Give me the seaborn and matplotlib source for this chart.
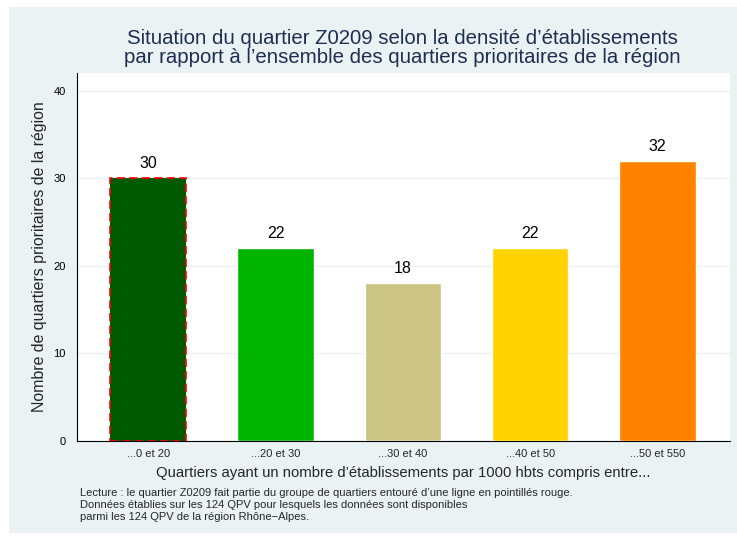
import numpy as np
import pandas as pd
import matplotlib
matplotlib.use("Agg")
import matplotlib.pyplot as plt
import seaborn as sns
from matplotlib.patches import Rectangle

# ======================
# Data
# ======================

categories = ["...0 et 20", "...20 et 30", "...30 et 40", "...40 et 50", "...50 et 550"]
counts = [30, 22, 18, 22, 32]
colors = ["#005A00", "#00B400", "#CBC482", "#FFD200", "#FF8200"]
yticks = [0, 10, 20, 30, 40]

title = ("Situation du quartier Z0209 selon la densité d\u2019établissements\n"
         "par rapport à l\u2019ensemble des quartiers prioritaires de la région")
xlabel = "Quartiers ayant un nombre d\u2019établissements par 1000 hbts compris entre..."
ylabel = "Nombre de quartiers prioritaires de la région"
notes = ["Lecture : le quartier Z0209 fait partie du groupe de quartiers entouré d\u2019une ligne en pointillés rouge.",
         "Données établies sur les 124 QPV pour lesquels les données sont disponibles",
         "parmi les 124 QPV de la région Rhône\u2212Alpes."]

df = pd.DataFrame({"cat": categories, "n": counts})

# ======================
# Plot
# ======================

sns.set_style("white")
plt.rcParams['font.family'] = ['Liberation Sans Narrow', 'Liberation Sans', 'DejaVu Sans']

bg = "#EAF2F3"
fig = plt.figure(figsize=(7.37, 5.4), dpi=100, facecolor="white")
fig.add_artist(Rectangle((9/737, 7/540), 1 - 9/737, 526/540,
                         transform=fig.transFigure, facecolor=bg,
                         edgecolor="none", zorder=-10))

ax = fig.add_axes([77/737, 1 - 441/540, 653/737, 368/540])
ax.set_facecolor("white")

sns.barplot(data=df, x="cat", y="n", hue="cat", palette=colors,
            width=0.6, saturation=1, legend=False, ax=ax, zorder=3)

# selected group: red dashed outline
first = ax.patches[0]
first.set_edgecolor("red")
first.set_linestyle((0, (5, 2.5)))
first.set_linewidth(1.2)

for c in ax.containers:
    ax.bar_label(c, padding=5, fontsize=11.5, color="black")

ax.set_ylim(0, 42)
ax.set_xlim(-0.56, 4.57)
ax.set_yticks(yticks)
ax.yaxis.grid(True, color=bg, linewidth=1)
ax.set_axisbelow(True)

ax.tick_params(axis="y", length=5, width=0.8, labelsize=8, colors="black", pad=3)
ax.tick_params(axis="x", length=0, labelsize=8, pad=6)

for s in ["top", "right"]:
    ax.spines[s].set_visible(False)
for s in ["left", "bottom"]:
    ax.spines[s].set_color("black")
    ax.spines[s].set_linewidth(0.8)

ax.set_xlabel(xlabel, fontsize=10.7, labelpad=5)
ax.set_ylabel(ylabel, fontsize=11.4, labelpad=5)

fig.text(0.546, 1 - 48/540, title, ha="center", va="center",
         fontsize=14.7, color="#1E2D53", linespacing=1.0)

fig.text(80/737, 1 - 488/540, "\n".join(notes), ha="left", va="top",
         fontsize=8, linespacing=1.28)

plt.savefig("out.png", dpi=100, facecolor="white")
